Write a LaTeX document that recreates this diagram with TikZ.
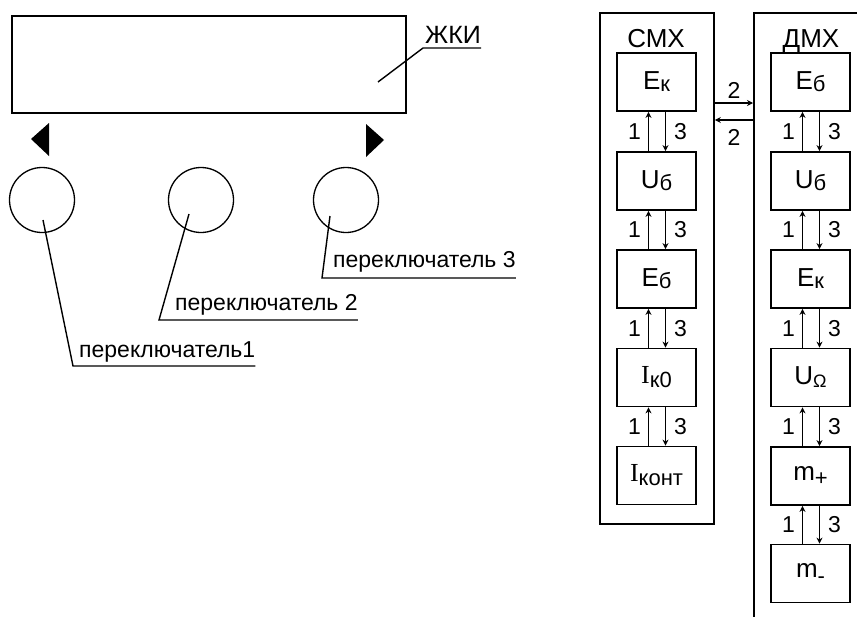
\documentclass[tikz,border=0pt]{standalone}
\usepackage{fontspec}
\setmainfont{Liberation Sans}
\newfontfamily\romanI{Liberation Serif}
\usetikzlibrary{arrows.meta, positioning, calc}
\newcommand{\ind}[2][3pt]{\raisebox{-#1}{\fontsize{22}{22}\selectfont #2}}

\begin{document}
\begin{tikzpicture}[x=1pt, y=-1pt,
    block/.style={draw, line width=1.8pt, minimum width=79pt, minimum height=58pt, inner sep=0pt,
      font=\fontsize{26}{30}\selectfont},
    panel/.style={draw, line width=1.8pt, inner sep=0pt, anchor=north west},
    knob/.style={draw, circle, line width=1.3pt, minimum size=65pt, inner sep=0pt},
    lead/.style={line width=1.4pt},
    tag/.style={font=\fontsize{23}{26}\selectfont, inner sep=0pt, anchor=base west},
    title/.style={font=\fontsize{26}{30}\selectfont, inner sep=0pt, anchor=base},
    num/.style={font=\fontsize{23}{26}\selectfont, inner sep=2pt},
    arrow/.style={-{Stealth[length=6pt, width=6pt]}, line width=1.4pt}
  ]
  \useasboundingbox (0,0) rectangle (857,616);
  \clip (0,0) rectangle (857,616);

  % display and switches
  \node[panel, minimum width=394pt, minimum height=97pt] (lcd) at (11,15) {};
  \coordinate (lcdtip) at (378,82);
  \coordinate (lcdbend) at (423,48);
  \node[tag, font=\fontsize{25}{28}\selectfont] (lcdname) at (425,43) {ЖКИ};
  \draw[lead] (lcdtip) -- (lcdbend) -- (lcdname.east |- lcdbend);

  \fill (31,139) -- (49,123) -- (49,156) -- cycle;
  \fill (384,140) -- (366,124) -- (366,157) -- cycle;

  \node[knob] (sw1) at (42,200) {};
  \node[knob] (sw2) at (201,200) {};
  \node[knob] (sw3) at (346,200) {};

  \node[tag] (sw1name) at (79,357) {переключатель1};
  \node[tag] (sw2name) at (175,310) {переключатель 2};
  \node[tag] (sw3name) at (333,267) {переключатель 3};

  \draw[lead] ($(sw1)+(1,20)$) -- (73,366) -- (sw1name.east |- 0,366);
  \draw[lead] ($(sw2)+(-12,14)$) -- (159,320) -- (sw2name.east |- 0,320);
  \draw[lead] ($(sw3)+(-16,16)$) -- (322,278) -- (sw3name.east |- 0,278);

  % measurement chains
  \node[panel, minimum width=114pt, minimum height=511pt] (smx) at (599,12) {};
  \node[panel, minimum width=140pt, minimum height=640pt] (dmx) at (753,12) {};
  \node[title] (smxname) at (656,47) {СМХ};
  \node[title] (dmxname) at (811,47) {ДМХ};

  \node[block] (s1) at (656.5,82) {E\ind[2pt]{к}};
  \node[block] (s2) at (656.5,181) {U\ind[2pt]{б}};
  \node[block] (s3) at (656.5,279) {E\ind[2pt]{б}};
  \node[block] (s4) at (656.5,377.5) {{\romanI I}\ind[4pt]{к0}};
  \node[block] (s5) at (656.5,475.5) {{\romanI I}\ind[4pt]{конт}};

  \node[block] (d1) at (810.5,82) {E\ind[2pt]{б}};
  \node[block] (d2) at (810.5,181) {U\ind[2pt]{б}};
  \node[block] (d3) at (810.5,279) {E\ind[2pt]{к}};
  \node[block] (d4) at (810.5,377.5) {U\ind[3pt]{\fontsize{18}{18}\selectfont Ω}};
  \node[block] (d5) at (810.5,476) {m\ind[5pt]{+}};
  \node[block] (d6) at (810.5,573.5) {m\ind[6pt]{-}};

  \foreach \a/\b in {s1/s2, s2/s3, s3/s4, s4/s5, d1/d2, d2/d3, d3/d4, d4/d5, d5/d6} {
    \draw[arrow] ([xshift=-8pt]\b.north) -- node[num, left=5pt] {1} ([xshift=-8pt]\a.south);
    \draw[arrow] ([xshift=9pt]\a.south) -- node[num, right=6pt] {3} ([xshift=9pt]\b.north);
  }

  \draw[arrow] (smx.east |- 0,103) -- node[num, above=2pt] {2} (dmx.west |- 0,103);
  \draw[arrow] (dmx.west |- 0,120) -- node[num, below=7pt] {2} (smx.east |- 0,120);
\end{tikzpicture}
\end{document}
